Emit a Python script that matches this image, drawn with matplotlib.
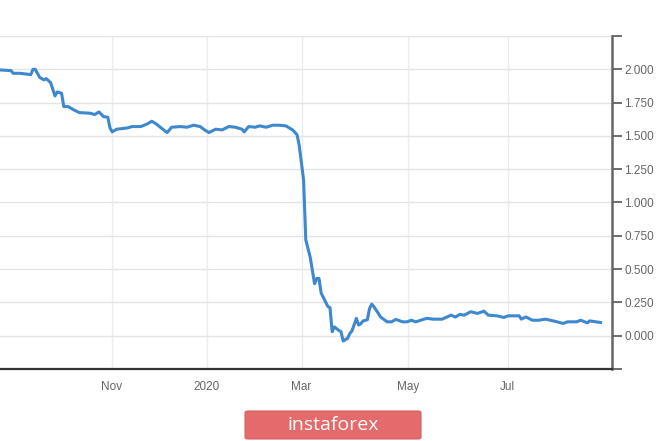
import matplotlib
matplotlib.use("Agg")
import matplotlib.pyplot as plt
from matplotlib.patches import FancyBboxPatch

plt.rcParams['font.family'] = ['Liberation Sans', 'DejaVu Sans']

# session index (trading days from start of window) and yield value
session = [0, 5, 6, 9, 14, 15, 16, 18, 20, 21, 23, 25, 26, 28, 29, 31, 33, 36, 41, 43,
           45, 47, 49, 50, 51, 53, 58, 60, 64, 67, 69, 71, 74, 76, 78, 82, 85, 88, 91, 93,
           95, 98, 101, 104, 107, 110, 111, 113, 116, 118, 121, 124, 127, 130, 133, 135, 136, 138, 139, 141,
           143, 144, 145, 146, 149, 150, 151, 152, 154, 155, 156, 158, 159, 160, 162, 163, 164, 165, 167, 168,
           169, 170, 172, 173, 176, 178, 180, 183, 185, 187, 189, 192, 194, 197, 201, 205, 207, 209, 211, 214,
           217, 220, 222, 226, 229, 231, 236, 237, 239, 242, 245, 248, 252, 256, 258, 262, 264, 267, 268, 273]
value = [1.995, 1.99, 1.97, 1.97, 1.96, 2.0, 2.0, 1.94, 1.92, 1.93, 1.90, 1.80, 1.83, 1.82, 1.72, 1.72, 1.70, 1.675, 1.67, 1.66,
         1.68, 1.645, 1.64, 1.56, 1.53, 1.55, 1.56, 1.57, 1.57, 1.59, 1.61, 1.59, 1.55, 1.525, 1.565, 1.57, 1.565, 1.58, 1.57, 1.545,
         1.525, 1.55, 1.545, 1.57, 1.565, 1.55, 1.53, 1.57, 1.565, 1.575, 1.565, 1.58, 1.58, 1.575, 1.545, 1.51, 1.43, 1.17, 0.72, 0.59,
         0.39, 0.43, 0.43, 0.32, 0.22, 0.21, 0.03, 0.066, 0.04, 0.03, -0.04, -0.02, 0.016, 0.036, 0.13, 0.08, 0.09, 0.11, 0.12, 0.205,
         0.237, 0.217, 0.167, 0.14, 0.104, 0.104, 0.122, 0.104, 0.104, 0.116, 0.104, 0.12, 0.13, 0.124, 0.124, 0.154, 0.14, 0.16, 0.154, 0.18,
         0.167, 0.184, 0.154, 0.149, 0.137, 0.149, 0.149, 0.124, 0.141, 0.116, 0.116, 0.124, 0.109, 0.092, 0.104, 0.104, 0.116, 0.096, 0.111, 0.099]

month_pos = [50.8, 94.0, 137.1, 185.3, 230.8]
month_labels = ["Nov", "2020", "Mar", "May", "Jul"]
y_ticks = [-0.25, 0.0, 0.25, 0.5, 0.75, 1.0, 1.25, 1.5, 1.75, 2.0, 2.25]

fig = plt.figure(figsize=(6.65, 4.41), dpi=100)
ax = fig.add_axes([0.0, 0.1633, 0.9203, 0.7551])

ax.plot(session, value, color="#3d88cf", linewidth=2.2, solid_joinstyle="round")

ax.set_xlim(0, 278.2)
ax.set_ylim(-0.25, 2.25)

ax.set_xticks(month_pos)
ax.set_xticklabels(month_labels)
ax.set_yticks(y_ticks)
ax.set_yticklabels(["" if (t < 0 or t > 2.0) else f"{t:.3f}" for t in y_ticks])

ax.yaxis.tick_right()
ax.tick_params(axis="y", which="both", direction="out", length=7, width=1.2,
               color="#555555", labelcolor="#666666", labelsize=8.5, pad=2)
ax.tick_params(axis="x", length=0, labelcolor="#666666", labelsize=8.5, pad=9)

for side in ["top", "left"]:
    ax.spines[side].set_visible(False)
ax.spines["right"].set_color("#666666")
ax.spines["right"].set_linewidth(1.8)
ax.spines["bottom"].set_color("#333333")
ax.spines["bottom"].set_linewidth(1.6)

ax.grid(axis="y", color="#e4e4e4", linewidth=1)
ax.grid(axis="x", color="#e6eef4", linewidth=1)
ax.set_axisbelow(True)

# watermark badge
badge = FancyBboxPatch((245 / 665, 1 - 439 / 441), 176 / 665, 28 / 441,
                       boxstyle="round,pad=0,rounding_size=0.004",
                       transform=fig.transFigure, facecolor="#e46a6c",
                       edgecolor="#d86062", linewidth=0.8)
fig.patches.append(badge)
fig.text(333 / 665, 1 - 425 / 441, "instaforex", color="white", fontsize=14,
         family="Open Sans", ha="center", va="center")

fig.savefig("out.png", dpi=100, facecolor="white")
